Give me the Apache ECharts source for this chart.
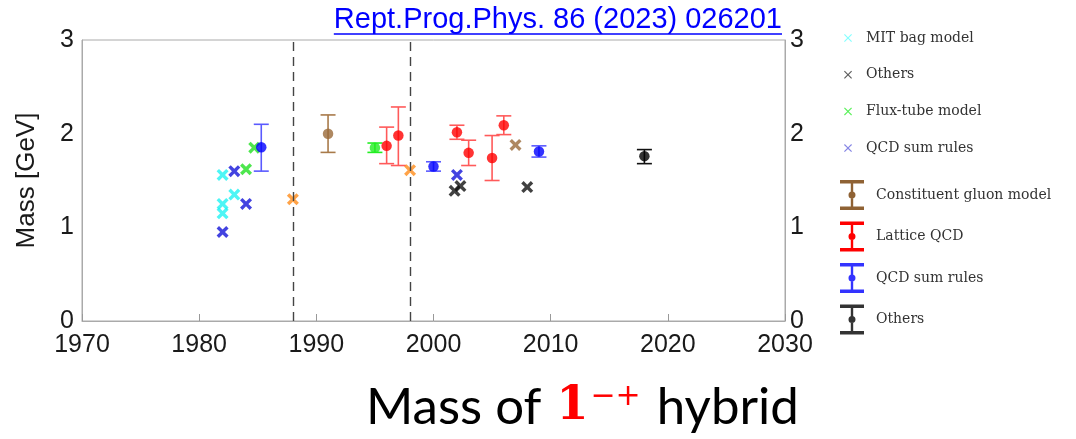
<!DOCTYPE html>
<html>
<head>
<meta charset="utf-8">
<script src="https://cdn.jsdelivr.net/npm/echarts@6/dist/echarts.min.js"></script>
<style>
html,body{margin:0;padding:0;background:#fff;}
#chart{width:1076px;height:439px;}
</style>
</head>
<body>
<div id="chart"></div>
<script>
// ---------- data ----------
const xTicks = [1970, 1980, 1990, 2000, 2010, 2020, 2030];
const yTicks = [0, 1, 2, 3];
const dividerYears = [1988, 1998];

// crosses: [year, mass]
const mitBagCross = [[1982, 1.56], [1982, 1.25], [1982, 1.15], [1983, 1.35]];
const qcdSumCross = [[1982, 0.95], [1983, 1.60], [1984, 1.25], [2002, 1.56]];
const fluxTubeCross = [[1984, 1.62], [1984.7, 1.85]];
const othersCross = [[2001.8, 1.39], [2002.3, 1.44], [2008, 1.43]];
const orangeCross = [[1988, 1.30], [1998, 1.61]];
const brownCross = [[2007, 1.88]];

// points with error bars: [year, mass, low, high]
const gluonModel = [[1991, 2.00, 1.80, 2.20]];
const latticeQCD = [[1996, 1.87, 1.68, 2.07], [1997, 1.98, 1.66, 2.285], [2002, 2.015, 1.94, 2.09],
                    [2003, 1.795, 1.66, 1.93], [2005, 1.74, 1.50, 1.98], [2006, 2.09, 1.99, 2.19]];
const qcdSumBar = [[1985.3, 1.855, 1.60, 2.10], [2000, 1.65, 1.60, 1.70], [2009, 1.81, 1.75, 1.87]];
const othersBar = [[2018, 1.76, 1.68, 1.83]];
const fluxTubeBar = [[1995, 1.85, 1.80, 1.90]];

const sourceText = 'Rept.Prog.Phys. 86 (2023) 026201';
const yAxisName = 'Mass [GeV]';

// ---------- styles ----------
const CROSS = 'path://M0,2L2,0L5,3L8,0L10,2L7,5L10,8L8,10L5,7L2,10L0,8L3,5Z';
const CROSS_THIN = 'path://M0,1L1,0L5,4L9,0L10,1L6,5L10,9L9,10L5,6L1,10L0,9L4,5Z';
const ERRBAR_ICON = 'path://M0,0H24V3.5H0Z M0,26.5H24V30H0Z M10.8,3.5H13.2V26.5H10.8Z M12,11.5A3.5,3.5 0 1 1 11.99,11.5Z';

function crossSeries(name, data, color) {
  return {
    type: 'scatter', name: name, data: data,
    symbol: CROSS, symbolSize: 12,
    itemStyle: { color: color }, z: 3
  };
}
function errSeries(name, data, barColor) {
  return {
    type: 'custom', name: name, data: data,
    encode: { x: 0, y: [1, 2, 3] },
    renderItem: function (params, api) {
      const x = api.value(0);
      const pHi = api.coord([x, api.value(3)]);
      const pLo = api.coord([x, api.value(2)]);
      const hw = 7.5;
      const st = { stroke: barColor, lineWidth: 1.6, fill: null };
      return {
        type: 'group',
        children: [
          { type: 'line', shape: { x1: pHi[0], y1: pHi[1], x2: pLo[0], y2: pLo[1] }, style: st },
          { type: 'line', shape: { x1: pHi[0] - hw, y1: pHi[1], x2: pHi[0] + hw, y2: pHi[1] }, style: st },
          { type: 'line', shape: { x1: pLo[0] - hw, y1: pLo[1], x2: pLo[0] + hw, y2: pLo[1] }, style: st }
        ]
      };
    },
    itemStyle: { color: barColor }, z: 2
  };
}
function dotSeries(name, data, color) {
  return {
    type: 'scatter', name: name, data: data,
    encode: { x: 0, y: 1 },
    symbol: 'circle', symbolSize: 10.5,
    itemStyle: { color: color }, z: 4
  };
}

const chart = echarts.init(document.getElementById('chart'), null, { renderer: 'canvas' });

// measure title width for underline
const ctx = document.createElement('canvas').getContext('2d');
const titleFont = 29;
ctx.font = titleFont + 'px "Liberation Sans"';
const titleW = ctx.measureText(sourceText).width;
const titleRight = 782;

const axisLabelStyle = { fontFamily: 'Liberation Sans', fontSize: 25, color: '#1a1a1a' };

const option = {
  backgroundColor: '#ffffff',
  animation: false,
  grid: { left: 82, right: 291, top: 40, bottom: 118, show: true, borderColor: '#aaaaaa', borderWidth: 1 },
  xAxis: {
    type: 'value', min: xTicks[0], max: xTicks[xTicks.length - 1], interval: 10,
    axisLine: { show: true, lineStyle: { color: '#aaaaaa' } },
    axisTick: { show: true, inside: true, length: 7, lineStyle: { color: '#999999' } },
    splitLine: { show: false },
    axisLabel: Object.assign({ margin: 12, formatter: v => String(v) }, axisLabelStyle)
  },
  yAxis: [
    {
      type: 'value', min: yTicks[0], max: yTicks[yTicks.length - 1], interval: 1,
      name: yAxisName, nameLocation: 'middle', nameGap: 42,
      nameTextStyle: { fontFamily: 'Liberation Sans', fontSize: 26, color: '#1a1a1a' },
      axisLine: { show: true, lineStyle: { color: '#aaaaaa' } },
      axisTick: { show: false }, splitLine: { show: false },
      axisLabel: Object.assign({ margin: 8 }, axisLabelStyle)
    },
    {
      type: 'value', position: 'right', min: yTicks[0], max: yTicks[yTicks.length - 1], interval: 1,
      axisLine: { show: true, lineStyle: { color: '#aaaaaa' } },
      axisTick: { show: false }, splitLine: { show: false },
      axisLabel: Object.assign({ margin: 5 }, axisLabelStyle)
    }
  ],
  legend: [
    {
      orient: 'vertical', left: 839, top: 26, itemGap: 22.7,
      itemWidth: 24, itemHeight: 8, selectedMode: false,
      textStyle: { fontFamily: 'DejaVu Serif', fontSize: 14, color: '#333333', lineHeight: 14, padding: [0, 0, 0, 1] },
      data: [
        { name: 'MIT bag model', icon: CROSS_THIN, itemStyle: { color: '#66ffff' } },
        { name: 'Others', icon: CROSS_THIN, itemStyle: { color: '#333333' } },
        { name: 'Flux-tube model', icon: CROSS_THIN, itemStyle: { color: '#33ee33' } },
        { name: 'QCD sum rules', icon: CROSS_THIN, itemStyle: { color: '#6666dd' } }
      ]
    },
    {
      orient: 'vertical', left: 835, top: 175, itemGap: 11.5,
      itemWidth: 24, itemHeight: 30, selectedMode: false,
      textStyle: { fontFamily: 'DejaVu Serif', fontSize: 14, color: '#333333', padding: [0, 0, 0, 7] },
      data: [
        { name: 'Constituent gluon model', icon: ERRBAR_ICON, itemStyle: { color: '#8f6234' } },
        { name: 'Lattice QCD', icon: ERRBAR_ICON, itemStyle: { color: '#ff0000' } },
        { name: 'QCD sum rules', icon: ERRBAR_ICON, itemStyle: { color: '#0000ff' } },
        { name: 'Others', icon: ERRBAR_ICON, itemStyle: { color: '#000000' } }
      ]
    }
  ],
  graphic: [
    {
      type: 'text', left: titleRight - titleW, top: 5,
      style: { text: sourceText, fontFamily: 'Liberation Sans', fontSize: titleFont, fill: '#0000ff' }
    },
    {
      type: 'line', shape: { x1: titleRight - titleW, y1: 34, x2: titleRight, y2: 34 },
      style: { stroke: '#0000ff', lineWidth: 1.5 }
    },
    {
      type: 'text', left: 366, top: 382,
      style: {
        text: 'Mass of {one|1}{sup|−+} hybrid',
        fontFamily: 'Lato', fontSize: 51, fill: '#000000',
        rich: {
          one: { fontFamily: 'DejaVu Serif', fontWeight: 'bold', fontSize: 46, fill: '#ff0000', padding: [0, 2, 0, 2] },
          sup: { fontFamily: 'DejaVu Sans', fontSize: 30, fill: '#ff0000', verticalAlign: 'top', padding: [0, 3, 16, 0] }
        }
      }
    }
  ],
  series: [
    crossSeries('MIT bag model', mitBagCross, '#22f2f2'),
    crossSeries('QCD sum rules', qcdSumCross, '#1414d8'),
    crossSeries('Flux-tube model', fluxTubeCross, '#22e022'),
    crossSeries('Others', othersCross, '#111111'),
    crossSeries('Early estimates', orangeCross, '#ff8c1a'),
    crossSeries('Gluon model estimate', brownCross, '#9a6a3a'),
    errSeries('Constituent gluon model', gluonModel, '#a87a4a'),
    dotSeries('Constituent gluon model', gluonModel, '#9a6a3a'),
    errSeries('Lattice QCD', latticeQCD, '#ff5a5a'),
    dotSeries('Lattice QCD', latticeQCD, '#ff0000'),
    errSeries('QCD sum rules', qcdSumBar, '#5a5aff'),
    dotSeries('QCD sum rules', qcdSumBar, '#0000ff'),
    errSeries('Others', othersBar, '#111111'),
    dotSeries('Others', othersBar, '#000000'),
    errSeries('Flux-tube estimate', fluxTubeBar, '#22ee22'),
    dotSeries('Flux-tube estimate', fluxTubeBar, '#22ee22'),
    {
      type: 'line', name: 'dividers', data: [], silent: true,
      markLine: {
        symbol: 'none', silent: true, label: { show: false },
        lineStyle: { color: '#444444', type: [9, 6], width: 1.4 },
        data: dividerYears.map(y => ({ xAxis: y }))
      }
    }
  ]
};
chart.setOption(option);
</script>
</body>
</html>
